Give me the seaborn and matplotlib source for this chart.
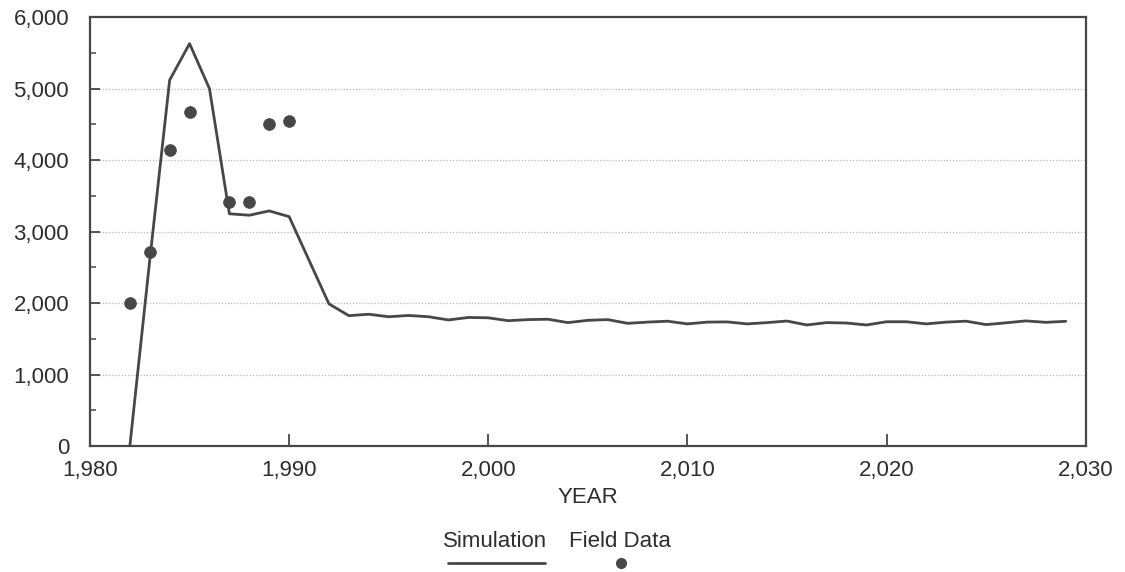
import matplotlib
matplotlib.use("Agg")
import matplotlib.pyplot as plt
from matplotlib.lines import Line2D
from matplotlib.ticker import FuncFormatter, MultipleLocator
import pandas as pd
import seaborn as sns

# simulation output, one value per year
sim_years = list(range(1982, 2030))
sim_values = [
    0, 2600, 5120, 5630, 5000, 3250, 3230, 3290, 3210, 2600,
    1990, 1825, 1845, 1810, 1828, 1810, 1765, 1800, 1795, 1755,
    1770, 1775, 1728, 1760, 1770, 1718, 1735, 1748, 1710, 1735,
    1738, 1710, 1728, 1750, 1695, 1728, 1722, 1695, 1740, 1740,
    1710, 1735, 1748, 1700, 1725, 1752, 1732, 1746,
]

# field measurements
field_years = [1982, 1983, 1984, 1985, 1987, 1988, 1989, 1990]
field_values = [2000, 2710, 4140, 4680, 3420, 3410, 4500, 4550]

x_ticks = [1980, 1990, 2000, 2010, 2020, 2030]
y_ticks = [0, 1000, 2000, 3000, 4000, 5000, 6000]

sim = pd.DataFrame({"year": sim_years, "value": sim_values})
field = pd.DataFrame({"year": field_years, "value": field_values})

sns.set_style("ticks")
plt.rcParams["font.family"] = ["Liberation Sans", "DejaVu Sans"]

ink = "#474747"
txt = "#2e2e2e"

fig = plt.figure(figsize=(11.25, 5.72), dpi=100)
ax = fig.add_axes([0.08, 0.22, 0.885, 0.75])

sns.lineplot(data=sim, x="year", y="value", ax=ax, color=ink, linewidth=2.0)
sns.scatterplot(data=field, x="year", y="value", ax=ax, color=ink, s=70,
                edgecolor=ink, zorder=3)

ax.set_xlim(1980, 2030)
ax.set_ylim(0, 6000)
ax.set_xticks(x_ticks)
ax.set_yticks(y_ticks)
ax.yaxis.set_minor_locator(MultipleLocator(500))
fmt = FuncFormatter(lambda v, p: f"{int(v):,}")
ax.xaxis.set_major_formatter(fmt)
ax.yaxis.set_major_formatter(fmt)

for y in y_ticks[1:-1]:
    ax.axhline(y, color="#b8b8b8", linestyle=(0, (1, 1.5)), linewidth=0.9, zorder=0)

for s in ax.spines.values():
    s.set_color(ink)
    s.set_linewidth(1.6)

ax.tick_params(axis="x", direction="in", length=9, width=1.3, color=ink,
               labelsize=16, labelcolor=txt, pad=10)
ax.tick_params(axis="y", which="major", direction="in", length=7, width=1.3,
               color=ink, labelsize=16, labelcolor=txt, pad=15)
ax.tick_params(axis="y", which="minor", direction="in", length=4, width=1.1,
               color=ink)

ax.set_xlabel("YEAR", fontsize=16, color=txt, labelpad=4)
ax.set_ylabel("")

# legend with the samples drawn under the labels
fig.text(0.440, 0.053, "Simulation", fontsize=16, color=txt,
         ha="center", va="center")
fig.text(0.551, 0.053, "Field Data", fontsize=16, color=txt,
         ha="center", va="center")
fig.add_artist(Line2D([0.398, 0.484], [0.016, 0.016], color=ink, linewidth=2.0,
                      transform=fig.transFigure))
fig.add_artist(Line2D([0.552], [0.016], color=ink, marker="o", markersize=7,
                      linestyle="none", transform=fig.transFigure))

fig.savefig("out.png", dpi=100)
